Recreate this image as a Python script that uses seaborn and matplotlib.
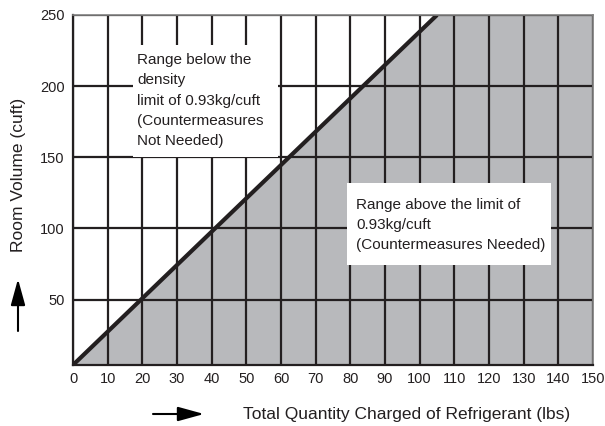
import numpy as np
import pandas as pd
import matplotlib
matplotlib.use('Agg')
import matplotlib.pyplot as plt
from matplotlib.patches import Rectangle, FancyArrowPatch
import seaborn as sns

# Data
x_ticks = list(range(0, 151, 10))
y_ticks = [50, 100, 150, 200, 250]
limit_qty = [0, 105]       # lbs
limit_vol = [4, 250]       # cuft
x_max = 150
y_min, y_max = 4, 250

below_text = "Range below the\ndensity\nlimit of 0.93kg/cuft\n(Countermeasures\nNot Needed)"
above_text = "Range above the limit of\n0.93kg/cuft\n(Countermeasures Needed)"
x_label = "Total Quantity Charged of Refrigerant (lbs)"
y_label = "Room Volume (cuft)"

sns.set_theme(style='white')
plt.rcParams['font.family'] = ['Liberation Sans', 'DejaVu Sans']

dark = '#231f20'
fill = '#b8b9bc'

fig = plt.figure(figsize=(6.05, 4.26), dpi=100)
ax = fig.add_axes([73 / 605, 1 - 365 / 426, 520 / 605, 350 / 426])

# shaded region above density limit
fill_x = [limit_qty[0], limit_qty[1], x_max]
fill_top = [limit_vol[0], limit_vol[1], y_max]
ax.fill_between(fill_x, y_min, fill_top, color=fill, lw=0, zorder=1)

df = pd.DataFrame({'qty': limit_qty, 'vol': limit_vol})
sns.lineplot(data=df, x='qty', y='vol', ax=ax, color=dark, lw=3.0, zorder=2.5,
             solid_capstyle='butt')

ax.set_xlim(0, x_max)
ax.set_ylim(y_min, y_max)
ax.set_xticks(x_ticks)
ax.set_yticks(y_ticks)
ax.tick_params(axis='both', length=0, labelsize=10.5, colors='#231f20')
ax.tick_params(axis='x', pad=5)
ax.tick_params(axis='y', pad=6)
ax.set_xlabel('')
ax.set_ylabel('')

ax.set_axisbelow('line')
ax.grid(True, color=dark, lw=1.6)

for side in ['left', 'bottom']:
    ax.spines[side].set_color(dark)
    ax.spines[side].set_linewidth(1.6)
for side in ['top', 'right']:
    ax.spines[side].set_color('#808080')
    ax.spines[side].set_linewidth(1.2)
for sp in ax.spines.values():
    sp.set_zorder(5)

# white label boxes
ax.add_patch(Rectangle((17.4, 150), 41.7, 79, facecolor='white', edgecolor='none', zorder=3))
ax.add_patch(Rectangle((79.0, 74), 59.0, 57.6, facecolor='white', edgecolor='none', zorder=3))
ax.text(18.6, 223.0, below_text, fontsize=11, va='top', ha='left', color=dark,
        linespacing=1.55, zorder=4)
ax.text(81.6, 121.5, above_text, fontsize=11, va='top', ha='left', color=dark,
        linespacing=1.55, zorder=4)

# axis titles and arrows
fig.text(243 / 605, 1 - 415 / 426, x_label, fontsize=12.5, ha='left', va='center', color=dark)
fig.text(18.5 / 605, 1 - 175 / 426, y_label, fontsize=12.5, ha='center', va='center',
         rotation=90, color=dark)
arrow = dict(arrowstyle='-|>,head_length=0.8,head_width=0.22', mutation_scale=20,
             color='black', lw=1.5, shrinkA=0, shrinkB=0, transform=fig.transFigure)
fig.add_artist(FancyArrowPatch((18 / 605, 1 - 331 / 426), (18 / 605, 1 - 279 / 426), **arrow))
fig.add_artist(FancyArrowPatch((153 / 605, 1 - 414 / 426), (204 / 605, 1 - 414 / 426), **arrow))

fig.savefig('out.png', dpi=100)
